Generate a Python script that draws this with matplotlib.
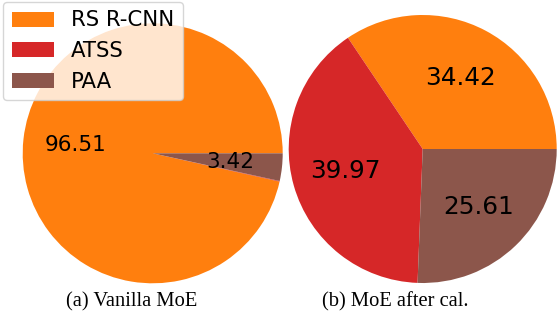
import matplotlib
matplotlib.use("Agg")
import matplotlib.pyplot as plt

categories = ["RS R-CNN", "ATSS", "PAA"]
vanilla = [96.51, 0.07, 3.42]
after_cal = [34.42, 39.97, 25.61]
vanilla_labels = ["96.51", "", "3.42"]
after_labels = ["34.42", "39.97", "25.61"]
titles = ["(a) Vanilla MoE", "(b) MoE after cal."]
colors = ["#ff7f0e", "#d62728", "#8c564b"]

W, H = 558, 314
fig = plt.figure(figsize=(W / 100, H / 100), dpi=100)

def add_pie_axes(cx, cy, r):
    ax = fig.add_axes([(cx - r) / W, (H - cy - r) / H, 2 * r / W, 2 * r / H])
    ax.set_xlim(-1, 1)
    ax.set_ylim(-1, 1)
    ax.axis("off")
    return ax

ax1 = add_pie_axes(152.7, 153.3, 130)
ax2 = add_pie_axes(422.7, 149.0, 134)

def draw(ax, vals, labels, fs):
    wedges, texts, autotexts = ax.pie(vals, colors=colors, startangle=0,
                                      counterclock=True, autopct="%.2f",
                                      pctdistance=0.6, radius=1.0,
                                      frame=True)
    for t, lab in zip(autotexts, labels):
        t.set_text(lab)
        t.set_fontsize(fs)
    ax.set_xlim(-1, 1)
    ax.set_ylim(-1, 1)
    ax.axis("off")
    return wedges

w1 = draw(ax1, vanilla, vanilla_labels, 15.5)
draw(ax2, after_cal, after_labels, 17.8)

fig.text(131.7 / W, 1 - 302 / H, titles[0], ha="center", va="center",
         family="Liberation Serif", fontsize=14.8)
fig.text(395 / W, 1 - 302 / H, titles[1], ha="center", va="center",
         family="Liberation Serif", fontsize=14.8)

fig.legend(w1, categories, loc="upper left", bbox_to_anchor=(3 / W, 1 - 2 / H),
           borderaxespad=0, fontsize=15.3, framealpha=0.8)

fig.savefig("out.png", dpi=100)
